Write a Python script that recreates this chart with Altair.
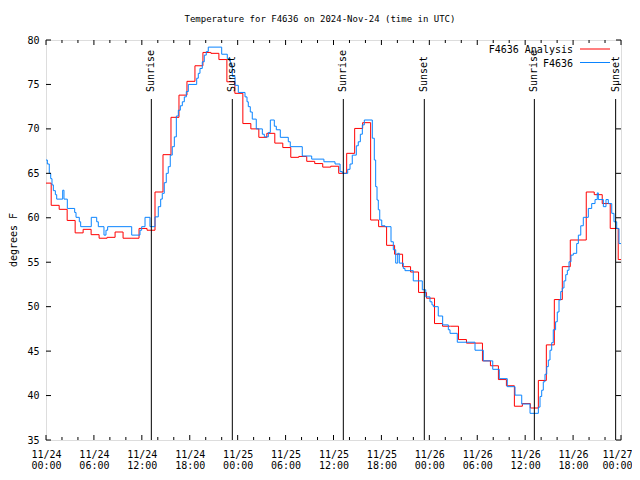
import json
import altair as alt
import pandas as pd

FONT = "DejaVu Sans Mono"
RED = "#ff0000"
BLUE = "#0a84ff"

# Analysis series: hourly steps (value holds from each time until the next)
red_start_hour = -0.35
red_temps = [63.9, 61.4, 60.95, 59.7, 58.3, 58.7, 58.1, 57.7, 57.8, 58.4,
             57.7, 57.7, 58.8, 58.6, 62.9, 67.1, 71.3, 73.8, 75.35, 77.1,
             78.6, 78.5, 77.8, 75.3, 74.0, 70.6, 70.0, 69.05, 69.5, 68.4,
             67.9, 66.8, 66.9, 66.35, 66.1, 65.7, 65.8, 65.0, 67.25, 70.05,
             70.7, 59.75, 59.0, 56.9, 55.9, 54.5, 53.9, 51.6, 50.95, 48.1,
             47.8, 47.8, 46.3, 45.9, 45.9, 43.9, 43.35, 41.8, 41.1, 38.8,
             39.1, 38.6, 41.7, 45.7, 50.8, 54.5, 57.5, 57.5, 62.9, 62.6,
             61.6, 58.8, 55.3]

# Observed series: hours since 11/24 00:00 UTC at which the reading changes
blue_hours = [0.0, 0.17, 0.41, 0.59, 0.75, 0.92, 1.17, 1.34, 2.09, 2.25,
              2.67, 3.59, 3.76, 4.17, 4.34, 5.67, 6.35, 6.55, 7.26, 7.51,
              7.72, 10.73, 11.77, 11.98, 12.40, 13.02, 13.65, 14.06, 14.36, 14.56,
              14.81, 15.06, 15.31, 15.56, 15.81, 16.07, 16.32, 16.57, 16.82, 17.07,
              17.32, 17.57, 17.82, 18.87, 19.07, 19.28, 19.57, 19.82, 20.07, 20.32,
              22.0, 22.7, 23.08, 23.33, 23.67, 24.08, 24.92, 25.17, 25.33, 25.58,
              25.83, 26.33, 27.09, 27.34, 27.84, 28.09, 28.59, 28.84, 29.34, 30.34,
              30.59, 32.09, 33.27, 34.8, 36.19, 36.82, 37.1, 37.78, 38.07, 38.35,
              38.86, 39.1, 39.36, 39.61, 39.86, 40.86, 41.11, 41.28, 41.45, 41.61,
              41.79, 42.04, 42.45, 43.2, 43.49, 43.79, 44.04, 44.24, 44.74, 44.95,
              45.99, 47.12, 47.55, 48.08, 48.33, 48.5, 49.12, 49.67, 50.38, 50.59,
              51.5, 53.72, 54.76, 55.94, 56.76, 57.76, 58.73, 59.57, 60.61, 61.65,
              61.86, 62.07, 62.27, 62.48, 62.7, 62.9, 63.11, 63.32, 63.52, 63.81,
              64.02, 64.24, 64.45, 64.65, 64.86, 65.08, 65.28, 65.49, 65.74, 66.03,
              66.45, 66.66, 66.96, 67.28, 67.91, 68.33, 68.75, 69.03, 69.16, 69.79,
              70.12, 70.41, 70.84, 71.12, 71.46, 71.75, 72.0]
blue_temps = [66.5, 66.05, 65.0, 64.4, 63.7, 63.05, 62.6, 62.1, 63.1, 62.1,
              61.05, 60.6, 60.05, 59.55, 59.0, 60.05, 59.55, 59.0, 58.05, 58.6,
              59.0, 58.05, 58.6, 59.0, 60.05, 59.0, 60.1, 61.25, 62.1, 62.75,
              63.95, 65.0, 65.75, 67.05, 68.0, 69.1, 71.45, 72.1, 72.6, 73.05,
              73.6, 74.2, 75.0, 75.7, 76.25, 76.8, 77.55, 78.3, 78.7, 79.2,
              78.4, 77.9, 77.2, 75.9, 74.9, 74.1, 73.6, 73.05, 72.5, 71.9,
              71.1, 70.0, 69.4, 69.1, 69.6, 71.0, 70.3, 69.9, 69.05, 68.55,
              68.0, 66.95, 66.6, 66.3, 66.05, 65.2, 65.0, 65.45, 66.05, 67.05,
              68.1, 68.55, 69.4, 70.45, 71.0, 68.95, 66.5, 63.5, 62.0, 60.9,
              59.75, 59.1, 59.0, 57.3, 56.4, 54.9, 56.0, 54.9, 54.3, 54.05,
              52.9, 51.9, 51.1, 50.55, 50.2, 50.0, 48.95, 47.95, 47.4, 47.0,
              46.0, 45.1, 43.9, 42.95, 41.9, 41.0, 40.05, 39.05, 38.0, 38.7,
              39.9, 40.6, 41.55, 42.4, 43.25, 44.0, 45.1, 45.95, 47.4, 48.3,
              49.4, 50.75, 51.7, 52.1, 52.9, 53.6, 54.1, 55.05, 55.8, 56.0,
              57.1, 58.05, 59.1, 60.05, 61.05, 61.6, 62.05, 62.8, 62.05, 61.25,
              62.05, 61.6, 60.5, 59.55, 58.8, 57.1, 57.1]

event_hours = [13.19, 23.33, 37.23, 47.37, 61.15, 71.33]
event_labels = ["Sunrise", "Sunset", "Sunrise", "Sunset", "Sunrise", "Sunset"]

x_major_hours = [0, 6, 12, 18, 24, 30, 36, 42, 48, 54, 60, 66, 72]
x_minor_hours = [2, 4, 8, 10, 14, 16, 20, 22, 26, 28, 32, 34, 38, 40, 44, 46,
                 50, 52, 56, 58, 62, 64, 68, 70]
x_tick_days = ["11/24", "11/24", "11/24", "11/24", "11/25", "11/25", "11/25",
               "11/25", "11/26", "11/26", "11/26", "11/26", "11/27"]
x_tick_times = ["00:00", "06:00", "12:00", "18:00", "00:00", "06:00", "12:00",
                "18:00", "00:00", "06:00", "12:00", "18:00", "00:00"]
y_ticks = [35, 40, 45, 50, 55, 60, 65, 70, 75, 80]

title_text = "Temperature for F4636 on 2024-Nov-24 (time in UTC)"
y_title = "degrees F"
legend_labels = ["F4636 Analysis", "F4636"]

W, H = 575, 400

red_hours = [red_start_hour + k for k in range(len(red_temps))] + [72.0]
red_df = pd.DataFrame({"h": red_hours, "t": red_temps + [red_temps[-1]]})
blue_df = pd.DataFrame({"h": blue_hours, "t": blue_temps})
events_df = pd.DataFrame({"h": event_hours, "label": event_labels})

xs = alt.Scale(domain=[0, 72], nice=False, zero=False)
ys = alt.Scale(domain=[35, 80], nice=False, zero=False)

label_expr = "[{d}[round(datum.value/6)], {t}[round(datum.value/6)]]".format(
    d=json.dumps(x_tick_days), t=json.dumps(x_tick_times))

x_axis = alt.Axis(values=x_major_hours, labelExpr=label_expr, ticks=False,
                  domain=False, grid=False, title=None, labelAngle=0,
                  labelFlush=False, labelOverlap=False, labelAlign="center",
                  labelOffset={"condition": {"test": "datum.value >= 72", "value": -4},
                               "value": 0},
                  labelFont=FONT, labelFontSize=10, labelColor="black",
                  labelPadding=9, labelLineHeight=11, labelBaseline="top")
y_axis = alt.Axis(values=y_ticks, ticks=False, domain=False, grid=False,
                  labelFlush=False, labelOverlap=False,
                  title=None, labelFont=FONT, labelFontSize=10,
                  labelColor="black", labelPadding=7)

red_line = alt.Chart(red_df).mark_line(
    interpolate="step-after", color=RED, strokeWidth=1, clip=True
).encode(x=alt.X("h:Q", scale=xs, axis=x_axis), y=alt.Y("t:Q", scale=ys, axis=y_axis))

blue_line = alt.Chart(blue_df).mark_line(
    interpolate="step-after", color=BLUE, strokeWidth=1, clip=True
).encode(x=alt.X("h:Q", scale=xs), y=alt.Y("t:Q", scale=ys))

event_rules = alt.Chart(events_df).mark_rule(color="black", strokeWidth=1).encode(
    x=alt.X("h:Q", scale=xs), y=alt.value(H), y2=alt.value(59))
event_text = alt.Chart(events_df).mark_text(
    angle=270, align="left", baseline="middle", font=FONT, fontSize=10, color="black"
).encode(x=alt.X("h:Q", scale=xs), y=alt.value(52), text="label:N")

xmaj = pd.DataFrame({"h": x_major_hours})
xmin = pd.DataFrame({"h": x_minor_hours})
ytk = pd.DataFrame({"t": y_ticks})

def xticks(df, length):
    bottom = alt.Chart(df).mark_rule(color="black", strokeWidth=1).encode(
        x=alt.X("h:Q", scale=xs), y=alt.value(H), y2=alt.value(H - length))
    top = alt.Chart(df).mark_rule(color="black", strokeWidth=1).encode(
        x=alt.X("h:Q", scale=xs), y=alt.value(0), y2=alt.value(length))
    return [bottom, top]

yl = alt.Chart(ytk).mark_rule(color="black", strokeWidth=1).encode(
    y=alt.Y("t:Q", scale=ys), x=alt.value(0), x2=alt.value(5))
yr = alt.Chart(ytk).mark_rule(color="black", strokeWidth=1).encode(
    y=alt.Y("t:Q", scale=ys), x=alt.value(W), x2=alt.value(W - 5))

title = alt.Chart(pd.DataFrame({"s": [title_text]})).mark_text(
    font=FONT, fontSize=9, color="black", align="center", baseline="middle"
).encode(text="s:N", x=alt.value(274), y=alt.value(-21))
ytitle = alt.Chart(pd.DataFrame({"s": [y_title]})).mark_text(
    font=FONT, fontSize=10, color="black", align="center", baseline="middle", angle=270
).encode(text="s:N", x=alt.value(-32), y=alt.value(200))

leg = []
for i, (lab, col) in enumerate(zip(legend_labels, [RED, BLUE])):
    yy = 10 + 13.5 * i
    leg.append(alt.Chart(pd.DataFrame({"s": [lab]})).mark_text(
        font=FONT, fontSize=10, color="black", align="right", baseline="middle"
    ).encode(text="s:N", x=alt.value(527), y=alt.value(yy)))
    leg.append(alt.Chart(pd.DataFrame({"s": [lab]})).mark_rule(
        color=col, strokeWidth=1).encode(x=alt.value(534), x2=alt.value(564),
                                         y=alt.value(yy - 1)))

layers = [red_line, blue_line, event_rules, event_text] + xticks(xmaj, 5) + \
    xticks(xmin, 3) + [yl, yr, title, ytitle] + leg

chart = alt.layer(*layers).properties(
    width=W, height=H,
    autosize=alt.AutoSizeParams(type="none"),
    padding={"left": 38, "top": 32, "right": 11, "bottom": 32},
).configure_view(stroke="black", strokeWidth=1).configure(background="white")

chart.save("out.html", embed_options={"renderer": "svg", "actions": False})
